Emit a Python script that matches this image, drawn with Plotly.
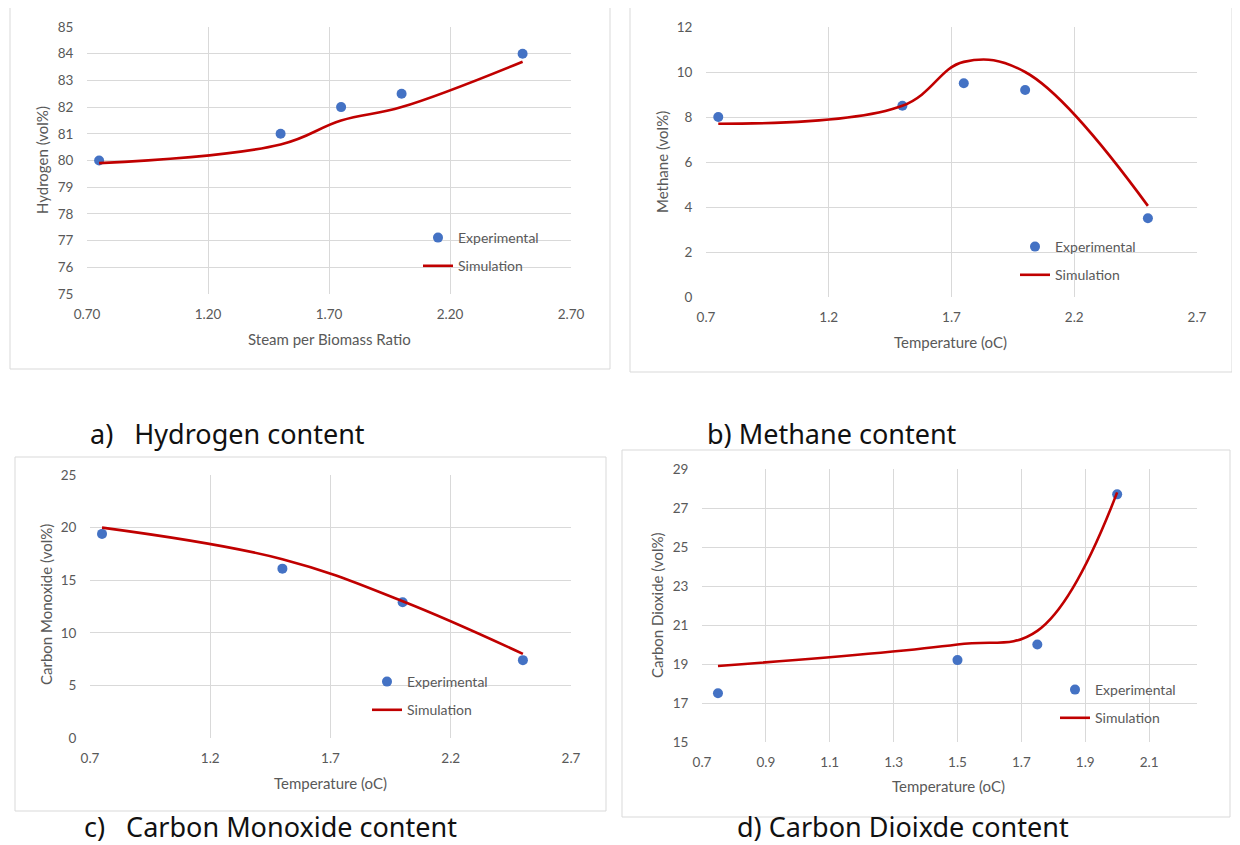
import plotly.graph_objects as go

W, H = 1240, 845
OFF = 8  # the page body adds an 8px margin around the figure

# ---------------- data ----------------
# a) Hydrogen
h2_exp_x = [0.75, 1.5, 1.75, 2.0, 2.5]
h2_exp_y = [80.0, 81.0, 82.0, 82.5, 84.0]
h2_sim_x = [0.75, 1.5, 1.75, 2.0, 2.5]
h2_sim_y = [79.9, 80.6, 81.5, 82.0, 83.7]

# b) Methane
ch4_exp_x = [0.75, 1.5, 1.75, 2.0, 2.5]
ch4_exp_y = [8.0, 8.5, 9.5, 9.2, 3.5]
ch4_sim_x = [0.75, 1.5, 1.75, 2.0, 2.5]
ch4_sim_y = [7.7, 8.5, 10.45, 10.0, 4.05]

# c) Carbon monoxide
co_exp_x = [0.75, 1.5, 2.0, 2.5]
co_exp_y = [19.4, 16.1, 12.9, 7.4]
co_sim_x = [0.75, 1.5, 2.0, 2.5]
co_sim_y = [20.0, 17.0, 13.0, 8.0]

# d) Carbon dioxide
co2_exp_x = [0.75, 1.5, 1.75, 2.0]
co2_exp_y = [17.5, 19.2, 20.0, 27.7]
co2_sim_x = [0.75, 1.5, 1.75, 2.0]
co2_sim_y = [18.9, 20.0, 20.7, 27.8]

captions = ["a)\u00a0\u00a0 Hydrogen content", "b) Methane content",
            "c)\u00a0\u00a0 Carbon Monoxide content", "d) Carbon Dioixde content"]
x_titles = ["Steam per Biomass Ratio", "Temperature (oC)", "Temperature (oC)", "Temperature (oC)"]
y_titles = ["Hydrogen (vol%)", "Methane (vol%)", "Carbon Monoxide (vol%)", "Carbon Dioxide (vol%)"]

# ---------------- style / layout ----------------
EXP_COLOR = "#4472C4"
SIM_COLOR = "#C00000"
TXT = "#595959"
GRID = "#D9D9D9"
FONT = "Lato"


def px(x):
    return (x - OFF) / W


def py(y):
    return 1 - (y - OFF) / H


panels = [
    dict(plot=(87, 571, 27, 294), border=(10, 610, 7, 369), xr=[0.7, 2.7], xd=0.5, xf=".2f",
         yr=[75, 85], yd=1, xt=(329, 339), yt=(42, 160), leg=(418, 222), cap=(88, 433),
         data=(h2_exp_x, h2_exp_y, h2_sim_x, h2_sim_y)),
    dict(plot=(706, 1197, 27, 297), border=(630, 1232, 7, 372), xr=[0.7, 2.7], xd=0.5, xf=".1f",
         yr=[0, 12], yd=2, xt=(950, 342), yt=(662, 162), leg=(1015, 231), cap=(705, 433),
         data=(ch4_exp_x, ch4_exp_y, ch4_sim_x, ch4_sim_y)),
    dict(plot=(90, 571, 475, 738), border=(15, 606, 457, 811), xr=[0.7, 2.7], xd=0.5, xf=".1f",
         yr=[0, 25], yd=5, xt=(330, 783), yt=(46, 605), leg=(367, 666), cap=(82, 826),
         data=(co_exp_x, co_exp_y, co_sim_x, co_sim_y)),
    dict(plot=(702, 1197, 469, 742), border=(622, 1230, 450, 817), xr=[0.7, 2.25], xd=0.2, xf=".1f",
         yr=[15, 29], yd=2, xt=(948, 786), yt=(657, 605), leg=(1055, 674), cap=(735, 826),
         data=(co2_exp_x, co2_exp_y, co2_sim_x, co2_sim_y)),
]

fig = go.Figure()
shapes = []
annotations = []
layout = dict(width=W, height=H, margin=dict(l=0, r=0, t=0, b=0, autoexpand=False),
              paper_bgcolor="white", plot_bgcolor="white", showlegend=True,
              font=dict(family=FONT, color=TXT, size=13))

for i, p in enumerate(panels):
    n = i + 1
    sfx = "" if n == 1 else str(n)
    xa, ya = "x" + sfx, "y" + sfx
    leg = "legend" + sfx
    ex, ey, sx, sy = p["data"]
    fig.add_trace(go.Scatter(x=ex, y=ey, mode="markers", name="Experimental",
                             marker=dict(color=EXP_COLOR, size=10, symbol="circle"),
                             xaxis=xa, yaxis=ya, legend=leg, legendgroup=f"e{n}"))
    fig.add_trace(go.Scatter(x=sx, y=sy, mode="lines", name="Simulation",
                             line=dict(color=SIM_COLOR, width=2.6, shape="spline", smoothing=1.1),
                             xaxis=xa, yaxis=ya, legend=leg, legendgroup=f"s{n}"))
    x0, x1, y0, y1 = p["plot"]
    layout["xaxis" + sfx] = dict(domain=[px(x0), px(x1)], range=p["xr"], tick0=0.7, dtick=p["xd"],
                                 tickformat=p["xf"], showgrid=True, gridcolor=GRID, gridwidth=1,
                                 zeroline=False, showline=False, anchor=ya, fixedrange=True,
                                 automargin=False,
                                 ticks="outside", ticklen=8, tickcolor="rgba(0,0,0,0)",
                                 tickfont=dict(family=FONT, size=13.5, color=TXT))
    layout["yaxis" + sfx] = dict(domain=[py(y1), py(y0)], range=p["yr"], tick0=p["yr"][0],
                                 dtick=p["yd"],
                                 showgrid=True, gridcolor=GRID, gridwidth=1,
                                 zeroline=False, showline=False, anchor=xa, fixedrange=True,
                                 automargin=False,
                                 ticks="outside", ticklen=10, tickcolor="rgba(0,0,0,0)",
                                 tickfont=dict(family=FONT, size=13.5, color=TXT))
    lx, ly = p["leg"]
    layout[leg] = dict(x=px(lx), y=py(ly), xanchor="left", yanchor="top",
                       bgcolor="rgba(0,0,0,0)", tracegroupgap=7,
                       font=dict(family=FONT, size=14, color=TXT), itemclick=False)
    bx0, bx1, by0, by1 = p["border"]
    shapes.append(dict(type="rect", xref="paper", yref="paper", x0=px(bx0), x1=px(bx1),
                       y0=py(by1), y1=py(by0), line=dict(color=GRID, width=1), layer="below"))
    tx, ty = p["xt"]
    annotations.append(dict(text=x_titles[i], x=px(tx), y=py(ty), xref="paper", yref="paper",
                            showarrow=False, xanchor="center", yanchor="middle",
                            font=dict(family=FONT, size=15, color=TXT)))
    vx, vy = p["yt"]
    annotations.append(dict(text=y_titles[i], x=px(vx), y=py(vy), xref="paper", yref="paper",
                            showarrow=False, xanchor="center", yanchor="middle", textangle=-90,
                            font=dict(family=FONT, size=15, color=TXT)))
    cx, cy = p["cap"]
    annotations.append(dict(text=captions[i], x=px(cx), y=py(cy), xref="paper", yref="paper",
                            showarrow=False, xanchor="left", yanchor="middle",
                            font=dict(family="Noto Sans", size=27, color="#111111")))

layout["shapes"] = shapes
layout["annotations"] = annotations
fig.update_layout(**layout)
fig.write_html("out.html")
